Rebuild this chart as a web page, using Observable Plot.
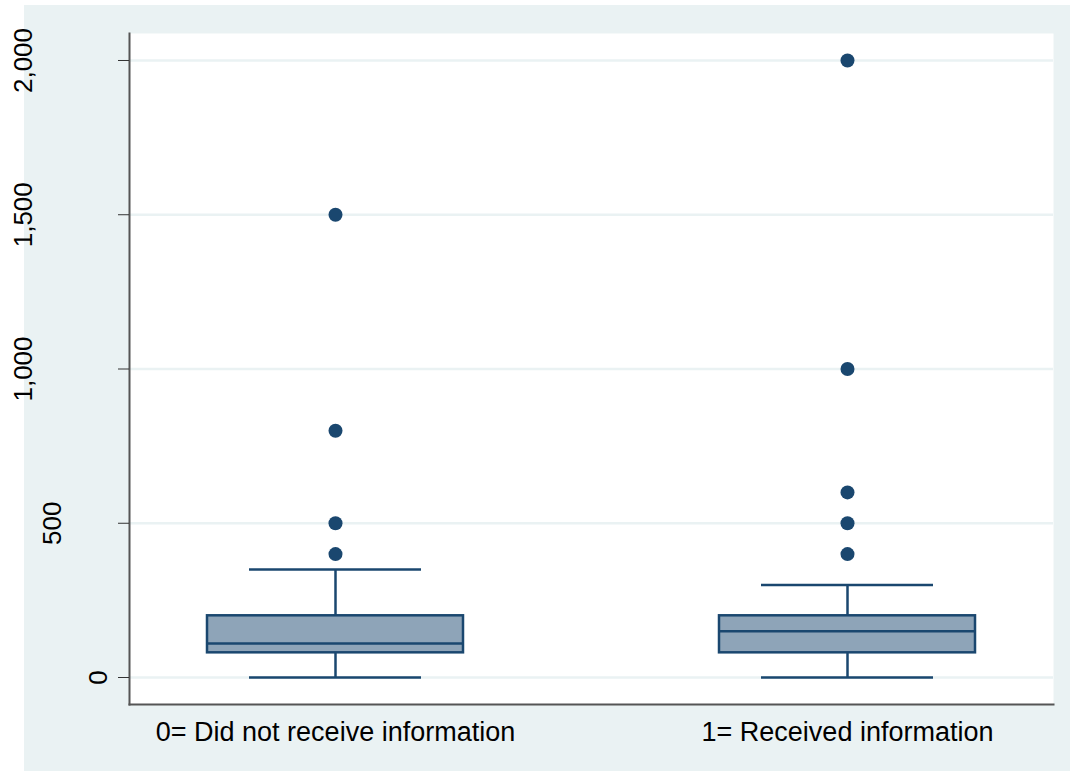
<!DOCTYPE html>
<html>
<head>
<meta charset="utf-8">
<script src="https://cdn.jsdelivr.net/npm/d3@7"></script>
<script src="https://cdn.jsdelivr.net/npm/@observablehq/plot@0.6"></script>
<style>
  html, body { margin: 0; padding: 0; background: #ffffff; }
  #wrap { position: relative; width: 1070px; height: 771px; }
  #bg { position: absolute; left: 24px; top: 5px; width: 1046px; height: 766px; background: #EAF2F3; }
  #chart { position: absolute; left: 0; top: 0; }
</style>
</head>
<body>
<div id="wrap"><div id="bg"></div><div id="chart"></div></div>
<script>
const categories = ["0= Did not receive information", "1= Received information"];
const whiskerLow = [0, 0];
const q1 = [80, 80];
const median = [110, 150];
const q3 = [200, 200];
const whiskerHigh = [350, 300];
const outliers = [
  [400, 500, 800, 1500],
  [400, 500, 600, 1000, 2000]
];
const yTicks = [0, 500, 1000, 1500, 2000];

const boxes = categories.map((c, i) => ({
  cat: c, lo: whiskerLow[i], q1: q1[i], med: median[i], q3: q3[i], hi: whiskerHigh[i]
}));
const points = categories.flatMap((c, i) => outliers[i].map(v => ({cat: c, v})));

const navy = "#1A476F";
const boxFill = "#8EA4B8";
const font = "'Liberation Sans', Arial, sans-serif";
const fmt = d3.format(",");
// Stata-style offset of vertical y labels, depending on label length
const yLabelDx = len => (len <= 1 ? -31 : len <= 3 ? -77 : -106);

const plot = Plot.plot({
  width: 1070,
  height: 771,
  marginLeft: 129,
  marginRight: 17,
  marginTop: 33,
  marginBottom: 67,
  style: { background: "transparent", fontFamily: font, color: "#000" },
  x: { type: "band", domain: categories, paddingInner: 0.5, paddingOuter: 0.1523 },
  y: { domain: [-87.5, 2087.5] },
  marks: [
    Plot.frame({ fill: "white", stroke: null }),
    Plot.ruleY(yTicks, { stroke: "#EAF2F3", strokeWidth: 2.5 }),
    Plot.ruleX(boxes, { x: "cat", y1: "lo", y2: "q1", stroke: navy, strokeWidth: 2.5 }),
    Plot.ruleX(boxes, { x: "cat", y1: "q3", y2: "hi", stroke: navy, strokeWidth: 2.5 }),
    Plot.tickY(boxes, { x: "cat", y: "lo", stroke: navy, strokeWidth: 2.5, insetLeft: 42, insetRight: 42 }),
    Plot.tickY(boxes, { x: "cat", y: "hi", stroke: navy, strokeWidth: 2.5, insetLeft: 42, insetRight: 42 }),
    Plot.barY(boxes, { x: "cat", y1: "q1", y2: "q3", fill: boxFill, stroke: navy, strokeWidth: 2.5 }),
    Plot.tickY(boxes, { x: "cat", y: "med", stroke: navy, strokeWidth: 2.5 }),
    Plot.dot(points, { x: "cat", y: "v", r: 7, fill: navy, stroke: null }),
    Plot.frame({ anchor: "left", stroke: "#555", strokeWidth: 2 }),
    Plot.frame({ anchor: "bottom", stroke: "#555", strokeWidth: 2 }),
    Plot.axisY({ ticks: yTicks, tickFormat: () => "", tickSize: 11, label: null, stroke: "#333" }),
    ...yTicks.map(t => Plot.text([t], {
      y: d => d, text: d => fmt(d), frameAnchor: "left", rotate: -90,
      dx: yLabelDx(fmt(t).length), fontSize: 26, textAnchor: "middle", lineAnchor: "middle", fill: "#000"
    })),
    Plot.axisX({ tickSize: 0, tickPadding: 17, fontSize: 27, label: null, fill: "#000" })
  ]
});
document.getElementById("chart").appendChild(plot);
</script>
</body>
</html>
